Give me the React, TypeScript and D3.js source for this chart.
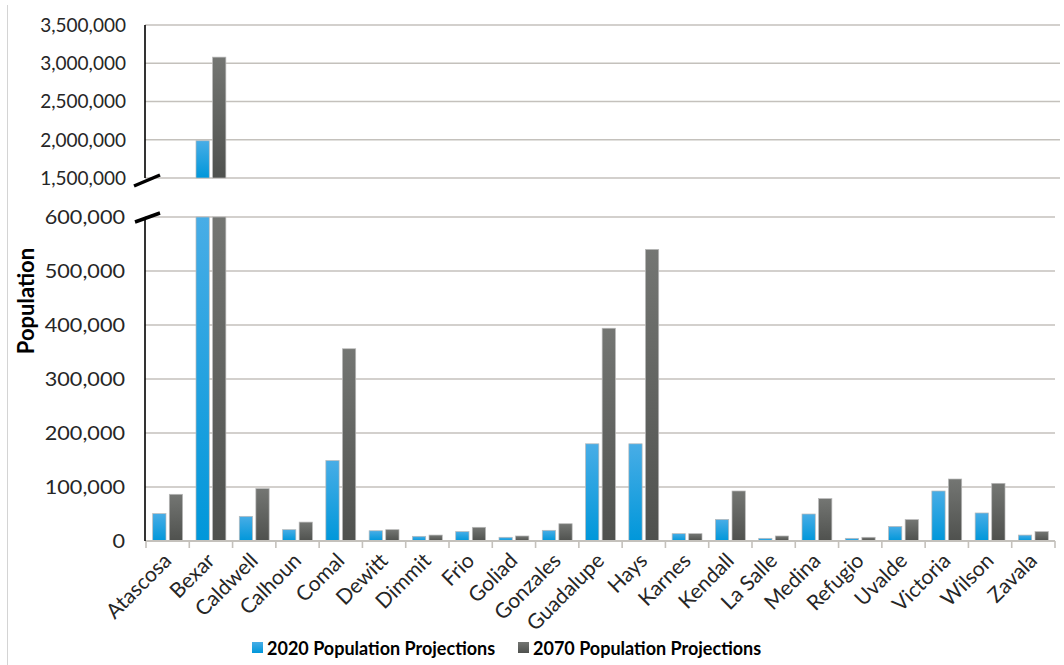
import React from "react";
import * as d3 from "d3";

// South Texas counties: 2020 and 2070 population projections
const counties = [
  "Atascosa", "Bexar", "Caldwell", "Calhoun", "Comal", "Dewitt", "Dimmit",
  "Frio", "Goliad", "Gonzales", "Guadalupe", "Hays", "Karnes", "Kendall",
  "La Salle", "Medina", "Refugio", "Uvalde", "Victoria", "Wilson", "Zavala",
];
const pop2020 = [
  50700, 1987000, 45700, 21000, 149000, 19000, 8700, 17400, 6900, 19800,
  180000, 180000, 13600, 40000, 5000, 50000, 5000, 27000, 92600, 51900, 11000,
];
const pop2070 = [
  86500, 3080000, 97000, 35000, 356000, 21000, 11000, 25400, 9300, 32000,
  394000, 540000, 13600, 92600, 9300, 78500, 6900, 39600, 114800, 106800, 17400,
];
const seriesNames = ["2020 Population Projections", "2070 Population Projections"];
const lowerTicks = [0, 100000, 200000, 300000, 400000, 500000, 600000];
const upperTicks = [1500000, 2000000, 2500000, 3000000, 3500000];

const W = 1064;
const H = 665;
const FONT = "Lato, 'Open Sans', sans-serif";
const GRID = "#c4c1bc";

export default function App() {
  const x0 = 146;
  const x1 = 1055;
  // lower panel: 0 – 600,000 ; upper panel: 1,500,000 – 3,500,000
  const yLow = d3.scaleLinear().domain([0, 600000]).range([541, 217]);
  const yUp = d3.scaleLinear().domain([1500000, 3500000]).range([178, 25]);

  const xBand = d3
    .scaleBand<string>()
    .domain(counties)
    .range([x0, x1])
    .paddingInner(0.31)
    .paddingOuter(0.155);
  const step = xBand.step();
  const xSeries = d3
    .scaleBand<string>()
    .domain(["2020", "2070"])
    .range([0, xBand.bandwidth()])
    .paddingInner(0.2);
  const bw = xSeries.bandwidth();
  const fmt = d3.format(",");

  const series = [
    { key: "2020", values: pop2020, fill: "url(#gBlue)" },
    { key: "2070", values: pop2070, fill: "url(#gGray)" },
  ];

  const bars: React.ReactNode[] = [];
  series.forEach((s) => {
    s.values.forEach((v, i) => {
      const bx = (xBand(counties[i]) as number) + (xSeries(s.key) as number);
      const lowTop = yLow(Math.min(v, 600000));
      bars.push(
        <rect
          key={`l-${s.key}-${i}`}
          x={bx}
          y={lowTop}
          width={bw}
          height={yLow(0) - lowTop}
          fill={s.fill}
          stroke="#b9b9b9"
          strokeWidth={0.7}
        />
      );
      if (v > 1500000) {
        const upTop = yUp(v);
        bars.push(
          <rect
            key={`u-${s.key}-${i}`}
            x={bx}
            y={upTop}
            width={bw}
            height={yUp(1500000) - upTop}
            fill={s.fill}
            stroke="#b9b9b9"
            strokeWidth={0.7}
          />
        );
      }
    });
  });

  return (
    <svg
      width={W}
      height={H}
      style={{ position: "absolute", left: 0, top: 0, background: "#fff" }}
      fontFamily={FONT}
    >
      <defs>
        <linearGradient id="gBlue" x1="0" y1="0" x2="0" y2="1">
          <stop offset="0" stopColor="#48ade6" />
          <stop offset="1" stopColor="#0097da" />
        </linearGradient>
        <linearGradient id="gGray" x1="0" y1="0" x2="0" y2="1">
          <stop offset="0" stopColor="#747673" />
          <stop offset="1" stopColor="#4f514e" />
        </linearGradient>
      </defs>

      {/* frame edge */}
      <line x1={7.5} x2={7.5} y1={5} y2={H} stroke="#d4d4d4" strokeWidth={1} />

      {/* gridlines */}
      {upperTicks.map((t) => (
        <line key={`gu${t}`} x1={145} x2={1060} y1={yUp(t)} y2={yUp(t)} stroke={GRID} strokeWidth={1.6} />
      ))}
      {lowerTicks.slice(1).map((t) => (
        <line key={`gl${t}`} x1={145} x2={1055} y1={yLow(t)} y2={yLow(t)} stroke={GRID} strokeWidth={1.6} />
      ))}

      {bars}

      {/* x axis */}
      <line x1={145} x2={1055} y1={yLow(0)} y2={yLow(0)} stroke={GRID} strokeWidth={2} />
      {d3.range(counties.length + 1).map((i) => (
        <line
          key={`xt${i}`}
          x1={x0 + i * step}
          x2={x0 + i * step}
          y1={yLow(0)}
          y2={yLow(0) + 7}
          stroke={GRID}
          strokeWidth={1.6}
        />
      ))}

      {/* y axis segments with break marks */}
      <line x1={145} x2={145} y1={yUp(3500000)} y2={yUp(1500000)} stroke="#000" strokeWidth={1.6} />
      <line x1={145} x2={145} y1={yLow(600000)} y2={yLow(0)} stroke="#000" strokeWidth={1.6} />
      <line x1={134} y1={186} x2={160} y2={175} stroke="#000" strokeWidth={3.5} />
      <line x1={135} y1={222} x2={160} y2={213} stroke="#000" strokeWidth={3.5} />

      {/* y tick labels */}
      {upperTicks.map((t) => (
        <text key={`tu${t}`} x={126} y={yUp(t)} dy="0.36em" textAnchor="end" fontSize={19} fill="#262626">
          {fmt(t)}
        </text>
      ))}
      {lowerTicks.map((t) => (
        <text
          key={`tl${t}`}
          transform={`translate(125,${yLow(t)}) scale(1.14,1)`}
          dy="0.36em"
          textAnchor="end"
          fontSize={19}
          fill="#262626"
        >
          {fmt(t)}
        </text>
      ))}

      {/* y axis title */}
      <text
        transform={`translate(34,301) rotate(-90)`}
        textAnchor="middle"
        fontSize={22}
        fontWeight="bold"
        fill="#000"
      >
        Population
      </text>

      {/* category labels */}
      {counties.map((c) => {
        const cx = (xBand(c) as number) + xBand.bandwidth() / 2;
        return (
          <text
            key={`xl${c}`}
            transform={`translate(${cx + 5},${562}) rotate(-45)`}
            textAnchor="end"
            fontSize={21}
            fill="#262626"
          >
            {c}
          </text>
        );
      })}

      {/* legend */}
      {seriesNames.map((name, i) => {
        const lx = i === 0 ? 252 : 518;
        return (
          <g key={name} transform={`translate(${lx},0)`}>
            <rect x={0} y={642} width={11} height={11} fill={i === 0 ? "url(#gBlue)" : "url(#gGray)"} />
            <text x={15} y={655} fontSize={18} fontWeight="bold" fill="#000">
              {name}
            </text>
          </g>
        );
      })}
    </svg>
  );
}
